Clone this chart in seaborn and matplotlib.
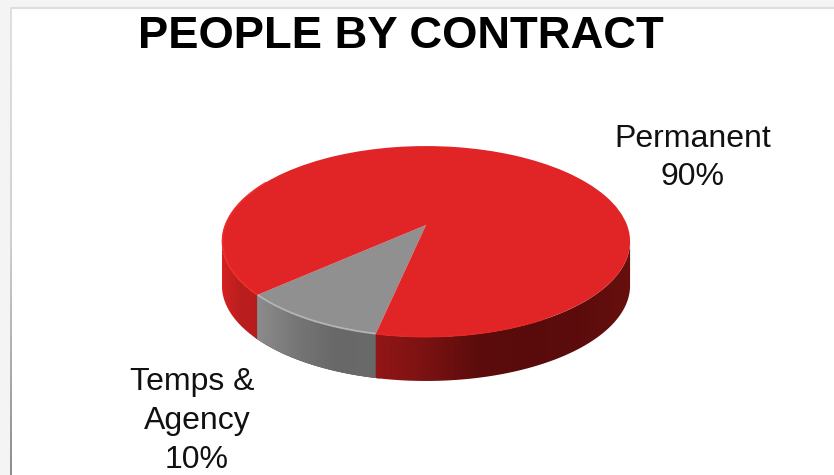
import numpy as np
import matplotlib
matplotlib.use("Agg")
import matplotlib.pyplot as plt
import seaborn as sns
from matplotlib.path import Path
from matplotlib.patches import PathPatch, Rectangle
from matplotlib.transforms import Transform

# Contract split
labels = ["Temps & ", "Permanent"]
shares = [10, 90]
title = "PEOPLE BY CONTRACT"

TOP_RED = "#e12526"
TOP_GREY = "#909090"
SLICE_COLORS = [TOP_GREY, TOP_RED]

# Geometry of the tilted disc, in pixels
CX, CY = 426.0, 225.0
SCALE_X, SCALE_Y = 201.0, 92.6
TILT = 0.173
DEPTH = 44.0
START_ANGLE = 222

sns.set_theme(style="white")
plt.rcParams["font.family"] = ["Liberation Sans", "DejaVu Sans"]


class DiscProjection(Transform):
    """Perspective view of the unit disc, with the far edge foreshortened."""
    input_dims = 2
    output_dims = 2
    is_separable = False
    has_inverse = False

    def transform_non_affine(self, values):
        values = np.asarray(values, dtype=float)
        u, v = values[:, 0], values[:, 1]
        w = 1 + TILT * v
        return np.column_stack([CX + SCALE_X * u / w, CY - SCALE_Y * v / w])


fig = plt.figure(figsize=(8.34, 4.75), dpi=100, facecolor="#f4f4f4")
ax = fig.add_axes([0, 0, 1, 1])

wedges, _ = ax.pie(shares, colors=SLICE_COLORS, startangle=START_ANGLE,
                   wedgeprops={"linewidth": 0})
ax.set_aspect("auto")
ax.set_axis_off()

projection = DiscProjection()
for wedge in wedges:
    wedge.set_transform(projection + ax.transData)
    wedge.set_zorder(5)


def rim(theta_a, theta_b, radius=1.0):
    t = np.radians(np.linspace(theta_a, theta_b, 120))
    return projection.transform(np.column_stack([radius * np.cos(t), radius * np.sin(t)]))


def wall_outline(theta_a, theta_b):
    edge = rim(theta_a, theta_b)
    return np.vstack([edge, (edge + [0, DEPTH])[::-1], edge[:1]])


# Side wall: horizontal shading clipped to the extruded rim of each slice
left_edge = 180 + np.degrees(np.arcsin(TILT))
right_edge = 360 - np.degrees(np.arcsin(TILT))
grey_wedge, red_wedge = wedges
grey_a, grey_b = grey_wedge.theta1, grey_wedge.theta2

# Underlay closes the hairline seams between the shaded pieces
ax.add_patch(PathPatch(Path(wall_outline(grey_a - 1, grey_b + 1), closed=True),
                       facecolor="#6a2a2a", edgecolor="none", zorder=2))

red_left = sns.blend_palette(["#d42222", "#bb1e1e", "#b81d1d"], as_cmap=True)
grey_side = sns.blend_palette(["#8c8c8c", "#767676", "#686868", "#6a6a6a"], as_cmap=True)
red_right = sns.blend_palette(["#921616", "#7a1212", "#5c0c0c", "#590b0b", "#5c0c0c", "#680f0f"], as_cmap=True)

gradient = np.linspace(0, 1, 256).reshape(1, -1)
for theta_a, theta_b, cmap in [(left_edge, grey_a, red_left),
                               (grey_a, grey_b, grey_side),
                               (grey_b, right_edge, red_right)]:
    outline = wall_outline(theta_a, theta_b)
    x0, x1 = outline[:, 0].min(), outline[:, 0].max()
    y0, y1 = outline[:, 1].min(), outline[:, 1].max()
    image = ax.imshow(gradient, cmap=cmap, aspect="auto", zorder=3,
                      extent=(x0, x1, y1, y0), interpolation="bilinear")
    clip = PathPatch(Path(outline, closed=True), transform=ax.transData,
                     facecolor="none", edgecolor="none")
    ax.add_patch(clip)
    image.set_clip_path(clip)

# Bevel highlight along the top rim
ax.plot(*rim(150, grey_a, 0.997).T, color="#ee2c2c", lw=1.2, zorder=6, solid_capstyle="butt")
ax.plot(*rim(grey_a, grey_b, 0.997).T, color="#b4b4b4", lw=1.3, zorder=6, solid_capstyle="butt")
ax.plot(*rim(grey_b, 300, 0.997).T, color="#e82727", lw=1.2, zorder=6, solid_capstyle="butt")

# Slide panel behind the chart
ax.add_patch(Rectangle((11, 8), 830, 480, facecolor="white", edgecolor="none", zorder=0))
ax.plot([11, 840], [7.5, 7.5], color="#dedede", lw=1.6, zorder=1)
border = sns.blend_palette(["#e0e0e0", "#d0d0d0", "#8c8c8c"], as_cmap=True)
ax.imshow(np.linspace(0, 1, 128).reshape(-1, 1), cmap=border, aspect="auto",
          extent=(10, 12, 475, 7), zorder=1)

ax.set_xlim(0, 834)
ax.set_ylim(475, 0)

ax.text(400.5, 37, title, ha="center", va="center", fontsize=32.7,
        fontweight="bold", color="black", zorder=7)
ax.text(693, 158, f"{labels[1]}\n{shares[1]}%", ha="center", va="center",
        fontsize=23, color="#111111", linespacing=1.39, zorder=7)
ax.text(197, 421, f"{labels[0]}\nAgency\n{shares[0]}%", ha="center", va="center",
        fontsize=23, color="#111111", linespacing=1.39, zorder=7)

fig.savefig("out.png", dpi=100, facecolor=fig.get_facecolor())
